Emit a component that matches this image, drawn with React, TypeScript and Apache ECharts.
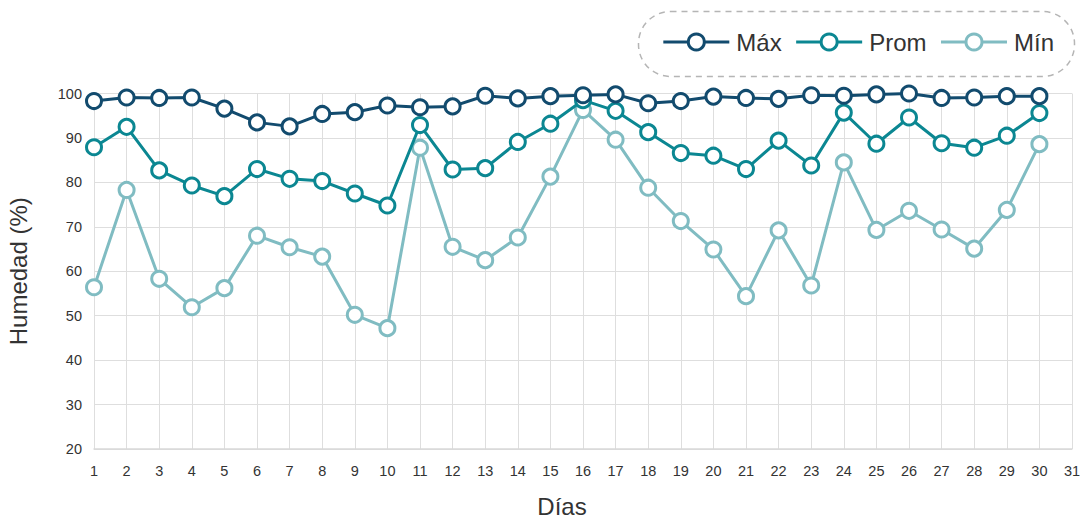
import React, { useEffect, useRef } from "react";
import * as echarts from "echarts";

const days = [1, 2, 3, 4, 5, 6, 7, 8, 9, 10, 11, 12, 13, 14, 15, 16, 17, 18, 19, 20, 21, 22, 23, 24, 25, 26, 27, 28, 29, 30];
const maxValues = [98.3, 99.1, 99.0, 99.1, 96.6, 93.5, 92.6, 95.4, 95.8, 97.3, 96.9, 97.1, 99.5, 98.9, 99.4, 99.6, 99.8, 97.8, 98.3, 99.3, 99.0, 98.8, 99.6, 99.5, 99.8, 100.0, 99.0, 99.1, 99.4, 99.4];
const avgValues = [87.9, 92.5, 82.7, 79.3, 76.9, 83.0, 80.8, 80.3, 77.5, 74.8, 92.9, 82.9, 83.2, 89.1, 93.2, 98.5, 96.1, 91.3, 86.6, 86.0, 83.0, 89.4, 83.8, 95.7, 88.7, 94.6, 88.8, 87.8, 90.5, 95.6];
const minValues = [56.4, 78.3, 58.3, 51.9, 56.2, 68.0, 65.4, 63.3, 50.2, 47.2, 87.8, 65.5, 62.5, 67.6, 81.3, 96.3, 89.6, 78.8, 71.3, 64.9, 54.4, 69.2, 56.8, 84.5, 69.3, 73.6, 69.4, 65.1, 73.8, 88.6];
const seriesNames = ["Máx", "Prom", "Mín"];
const seriesColors = ["#124b6e", "#0b8792", "#80bcc2"];

export default function App() {
  const ref = useRef<HTMLDivElement>(null);
  useEffect(() => {
    if (!ref.current) return;
    const chart = echarts.init(ref.current, null, { renderer: "svg" });
    const font = "Arial, 'Liberation Sans', sans-serif";
    const allValues = [maxValues, avgValues, minValues];
    const series = allValues.map((vals, i) => ({
      name: seriesNames[i],
      type: "line",
      data: days.map((d, j) => [d, vals[j]]),
      symbol: "circle",
      symbolSize: 15,
      showSymbol: true,
      lineStyle: { color: seriesColors[i], width: 3 },
      itemStyle: { color: "#ffffff", borderColor: seriesColors[i], borderWidth: 3 },
      z: 10 - i,
    }));
    chart.setOption({
      animation: false,
      textStyle: { fontFamily: font },
      grid: { left: 94, right: 11, top: 93.5, bottom: 71, containLabel: false, outerBoundsMode: "none" },
      legend: {
        data: seriesNames,
        right: 24,
        top: 25,
        itemWidth: 66,
        itemHeight: 20,
        itemGap: 13,
        lineStyle: { width: 3 },
        itemStyle: { borderWidth: 3 },
        textStyle: { fontSize: 24, color: "#333", fontFamily: font, padding: [0, 0, 0, 2] },
      },
      graphic: [
        {
          type: "rect",
          left: 636,
          top: 9,
          shape: { width: 436, height: 65, r: 32 },
          style: { fill: "none", stroke: "#b5b5b5", lineWidth: 1.5, lineDash: [6, 5] },
          z: -1,
        },
      ],
      xAxis: {
        type: "value",
        min: 1,
        max: 31,
        interval: 1,
        name: "Días",
        nameLocation: "middle",
        nameGap: 45,
        nameTextStyle: { fontSize: 24, color: "#333", fontFamily: font, padding: [0, 42, 0, 0] },
        axisLine: { show: true, lineStyle: { color: "#d9d9d9", width: 1.5 } },
        axisTick: { show: false },
        axisLabel: { fontSize: 14.5, color: "#333", margin: 14, fontFamily: font },
        splitLine: { show: true, lineStyle: { color: "#dedede", width: 1 } },
      },
      yAxis: {
        type: "value",
        min: 20,
        max: 100,
        interval: 10,
        name: "Humedad (%)",
        nameLocation: "middle",
        nameGap: 64,
        nameTextStyle: { fontSize: 24, color: "#333", fontFamily: font },
        axisLine: { show: false },
        axisTick: { show: false },
        axisLabel: { fontSize: 14.5, color: "#333", margin: 12, fontFamily: font },
        splitLine: { show: true, lineStyle: { color: "#dedede", width: 1 } },
      },
      series,
    });
    return () => chart.dispose();
  }, []);
  return <div ref={ref} style={{ position: "absolute", left: 0, top: 0, width: 1083, height: 520 }} />;
}
